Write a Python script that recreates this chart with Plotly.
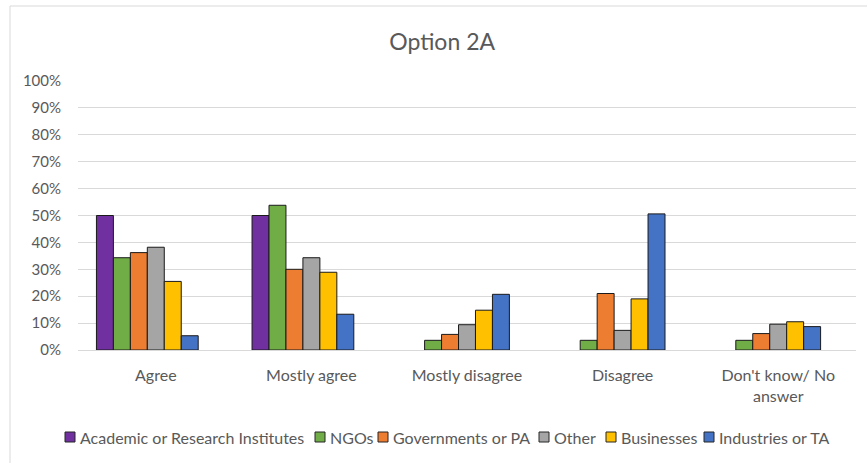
import plotly.graph_objects as go

categories = ["Agree", "Mostly agree", "Mostly disagree", "Disagree", "Don't know/ No<br>answer"]
series_names = ["Academic or Research Institutes", "NGOs", "Governments or PA", "Other", "Businesses", "Industries or TA"]
academic = [0.50, 0.50, None, None, None]
ngos = [0.343, 0.538, 0.036, 0.036, 0.036]
governments = [0.362, 0.30, 0.058, 0.21, 0.061]
other = [0.382, 0.343, 0.094, 0.073, 0.096]
businesses = [0.255, 0.289, 0.148, 0.19, 0.105]
industries = [0.053, 0.133, 0.207, 0.506, 0.087]
colors = ["#7030A0", "#70AD47", "#ED7D31", "#A5A5A5", "#FFC000", "#4472C4"]
tick_vals = [i / 10 for i in range(11)]
tick_text = [f"{i*10}%" for i in range(11)]

font = "Lato, 'Open Sans', sans-serif"
grey = "#595959"
all_series = [academic, ngos, governments, other, businesses, industries]

# bar width in category units; the source chart reserves 7 slots per category
w = 0.109
n_slots = 7

fig = go.Figure()
for idx, (name, vals, col) in enumerate(zip(series_names, all_series, colors)):
    fig.add_trace(go.Bar(x=list(range(len(categories))), y=vals, name=name, width=w,
                         offset=-n_slots * w / 2 + idx * w,
                         marker=dict(color=col, line=dict(color="#1a1a1a", width=1)),
                         showlegend=False))

# legend drawn as squares + labels (positions in paper coordinates)
L, R, T, B = 78, 856, 81, 350
def px(xp):
    return (xp - L) / (R - L)
def py(yp):
    return (B - yp) / (B - T)
legend_x = [65, 315, 378, 539, 606, 704]
legend_y = 437
for name, col, lx in zip(series_names, colors, legend_x):
    fig.add_shape(type="rect", xref="paper", yref="paper",
                  x0=px(lx), x1=px(lx + 10), y0=py(legend_y + 5), y1=py(legend_y - 5),
                  fillcolor=col, line=dict(color="#262626", width=1))
    fig.add_annotation(xref="paper", yref="paper", x=px(lx + 13), y=py(legend_y), text=name,
                       showarrow=False, xanchor="left", yanchor="middle",
                       font=dict(family=font, size=16, color=grey))

fig.update_layout(
    width=867, height=463,
    margin=dict(l=L, r=867 - R, t=T, b=463 - B),
    paper_bgcolor="white", plot_bgcolor="white",
    barmode="overlay",
    title=dict(text="Option 2A", x=0.51, xanchor="center", y=0.91, yanchor="middle",
               font=dict(family=font, size=23, color=grey)),
    font=dict(family=font, size=14, color=grey),
    xaxis=dict(range=[-0.5, len(categories) - 0.5], tickvals=list(range(len(categories))),
               ticktext=categories, showgrid=False, showline=True, linecolor="#d9d9d9",
               linewidth=1, ticks="", automargin=False, ticklabelstandoff=11,
               tickfont=dict(size=16, color=grey)),
    yaxis=dict(range=[0, 1.0], tickvals=tick_vals, ticktext=tick_text, showgrid=True,
               gridcolor="#d9d9d9", gridwidth=1, zeroline=False, showline=False,
               automargin=False, tickfont=dict(size=15, color=grey), ticklabelstandoff=16),
    showlegend=False,
)
fig.add_shape(type="line", xref="paper", yref="paper", x0=px(10), x1=px(870), y0=py(6), y1=py(6),
              line=dict(color="#d9d9d9", width=1))
fig.add_shape(type="line", xref="paper", yref="paper", x0=px(10), x1=px(10), y0=py(6), y1=py(470),
              line=dict(color="#d9d9d9", width=1))

fig.write_html("out.html", config={"displayModeBar": False},
               post_script="document.body.style.margin='0';document.body.style.padding='0';"
                           "document.documentElement.style.overflow='hidden';")
